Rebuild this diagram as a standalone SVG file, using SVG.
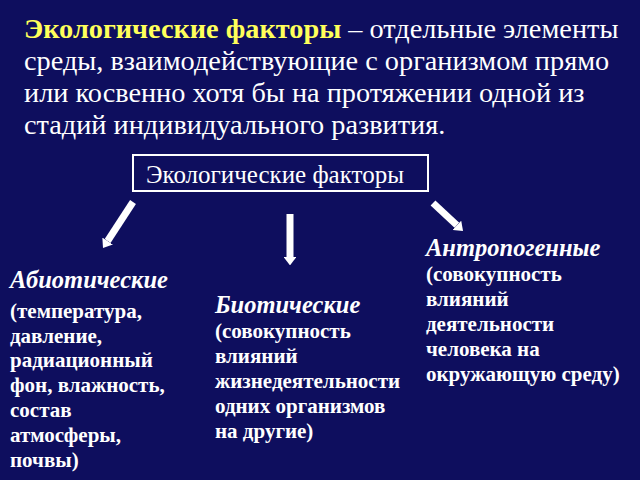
<svg xmlns="http://www.w3.org/2000/svg" width="640" height="480" viewBox="0 0 640 480">
<defs>
<style>
.w{fill:#ffffff}
.h{font-size:28.3px}
.y{fill:#ffff5a;font-weight:bold}
.b{font-size:21px;font-weight:bold}
.bi{font-size:24.5px;font-weight:bold;font-style:italic}
.arr{stroke:#ffffff;stroke-width:7;fill:none}
</style>
<marker id="ah" markerWidth="1.2" markerHeight="1.8" refX="0" refY="0.9" orient="auto" markerUnits="strokeWidth">
<path d="M0,0 L1.2,0.9 L0,1.8 Z" fill="#ffffff"/>
</marker>
</defs>
<rect width="640" height="480" fill="#0e0e5e"/>
<g id="definition" font-family="Liberation Serif, serif">
<text class="w h" x="24" y="38"><tspan class="y">Экологические факторы</tspan> – отдельные элементы</text>
<text class="w h" x="24" y="70">среды, взаимодействующие с организмом прямо</text>
<text class="w h" x="24" y="102">или косвенно хотя бы на протяжении одной из</text>
<text class="w h" x="24" y="134">стадий индивидуального развития.</text>
</g>
<g id="root" font-family="Liberation Serif, serif">
<rect x="133" y="155" width="295" height="36" fill="none" stroke="#ffffff" stroke-width="2"/>
<text class="w" x="146" y="183" font-size="25">Экологические факторы</text>
</g>
<g id="abiotic" font-family="Liberation Serif, serif">
<text class="w bi" x="10" y="288">Абиотические</text>
<text class="w b" x="10" y="318">(температура,</text>
<text class="w b" x="10" y="343">давление,</text>
<text class="w b" x="10" y="367">радиационный</text>
<text class="w b" x="10" y="392">фон, влажность,</text>
<text class="w b" x="10" y="417">состав</text>
<text class="w b" x="10" y="442">атмосферы,</text>
<text class="w b" x="10" y="467">почвы)</text>
</g>
<g id="biotic" font-family="Liberation Serif, serif">
<text class="w bi" x="215" y="313">Биотические</text>
<text class="w b" x="215" y="338">(совокупность</text>
<text class="w b" x="215" y="363">влияний</text>
<text class="w b" x="215" y="388">жизнедеятельности</text>
<text class="w b" x="215" y="413">одних организмов</text>
<text class="w b" x="215" y="438">на другие)</text>
</g>
<g id="anthropogenic" font-family="Liberation Serif, serif">
<text class="w bi" x="426" y="256">Антропогенные</text>
<text class="w b" x="426" y="281">(совокупность</text>
<text class="w b" x="426" y="306">влияний</text>
<text class="w b" x="426" y="331">деятельности</text>
<text class="w b" x="426" y="356">человека на</text>
<text class="w b" x="426" y="381">окружающую среду)</text>
</g>
<g id="connectors">
<line class="arr" x1="133" y1="202" x2="107.6" y2="241" marker-end="url(#ah)"/>
<line class="arr" x1="290" y1="214" x2="290" y2="257" marker-end="url(#ah)"/>
<line class="arr" x1="433" y1="203" x2="456.9" y2="225.3" marker-end="url(#ah)"/>
</g>
</svg>
